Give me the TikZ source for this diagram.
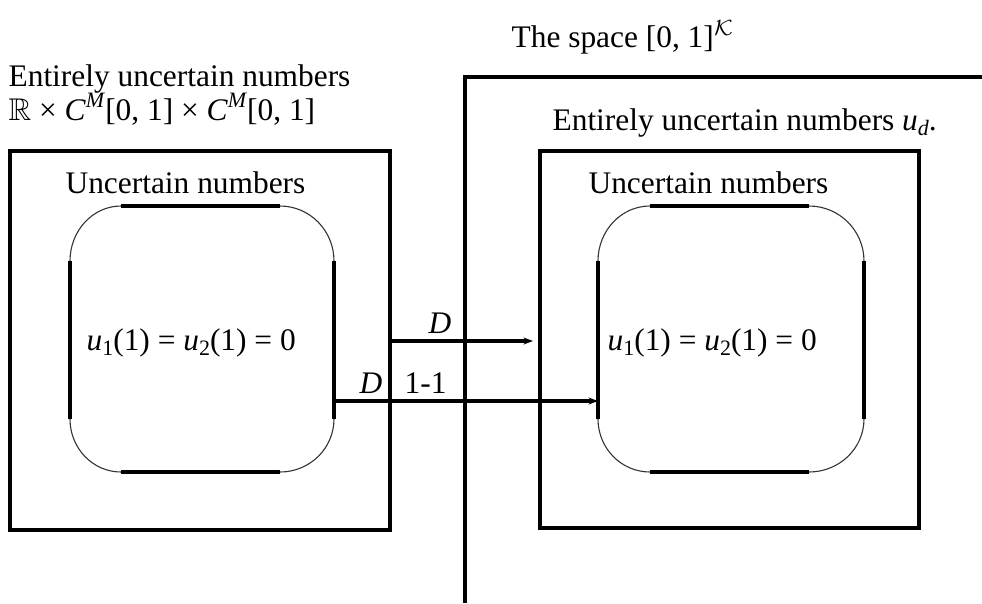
\documentclass[tikz,border=0pt]{standalone}
\usepackage{amssymb}
\usepackage{fontspec}
\setmainfont{Liberation Serif}
\usetikzlibrary{arrows.meta,calc}
\tikzset{
  px/.style={x=0.3185pt,y=-0.3185pt},
  heavy/.style={line width=1.3pt},
  thinarc/.style={line width=0.35pt,draw=black!80},
  lbl/.style={inner sep=0pt,anchor=base west},
  lblc/.style={inner sep=0pt,anchor=base},
  arr/.style={heavy,-{Stealth[length=3pt,width=2.2pt]}}
}
\newcommand{\mysub}[1]{\raisebox{-0.35ex}{\scriptsize #1}}
\newcommand{\mysup}[1]{\raisebox{0.85ex}{\scriptsize #1}}
\newcommand{\myeq}{\textit{u}\mysub{1}(1)\hspace{0.25em}=\hspace{0.25em}\textit{u}\mysub{2}(1)\hspace{0.25em}=\hspace{0.25em}0}
\newcommand{\rbox}[8]{% L R T B xl xr yt yb
  \draw[heavy] (#5,#3) -- (#6,#3);
  \draw[heavy] (#5,#4) -- (#6,#4);
  \draw[heavy] (#1,#7) -- (#1,#8);
  \draw[heavy] (#2,#7) -- (#2,#8);
  \draw[thinarc] (#5,#3) .. controls ($(#5,#3)!0.5523!(#1,#3)$) and ($(#1,#7)!0.5523!(#1,#3)$) .. (#1,#7);
  \draw[thinarc] (#6,#3) .. controls ($(#6,#3)!0.5523!(#2,#3)$) and ($(#2,#7)!0.5523!(#2,#3)$) .. (#2,#7);
  \draw[thinarc] (#5,#4) .. controls ($(#5,#4)!0.5523!(#1,#4)$) and ($(#1,#8)!0.5523!(#1,#4)$) .. (#1,#8);
  \draw[thinarc] (#6,#4) .. controls ($(#6,#4)!0.5523!(#2,#4)$) and ($(#2,#8)!0.5523!(#2,#4)$) .. (#2,#8);
}
\begin{document}
\begin{tikzpicture}[px]
\useasboundingbox (0,0) rectangle (982,603);
% titles
\node[lbl] (title) at (511,47) {The space [0, 1]$^{\mathcal{K}}$};
\node[lbl] (lhead1) at (8,86) {Entirely uncertain numbers};
\node[lbl] (lhead2) at (8,120) {$\mathbb{R}$ × \textit{C}\mysup{\textit{M}}[0, 1] × \textit{C}\mysup{\textit{M}}[0, 1]};
\node[lbl] (rhead) at (552,130) {Entirely uncertain numbers \textit{u}\mysub{\textit{d}}.};
% space boundary
\coordinate (sp0) at (465,603);
\coordinate (sp1) at (465,77);
\coordinate (sp2) at (982,77);
\draw[heavy] (sp0) -- (sp1) -- (sp2);
% big boxes
\draw[heavy] (10,151) rectangle (390,530);
\draw[heavy] (540,151) rectangle (919,528);
\node[lbl] (lun) at (65,193) {Uncertain numbers};
\node[lbl] (run) at (588,193) {Uncertain numbers};
% rounded boxes
\rbox{70}{334}{206}{472}{121}{280}{261}{419}
\rbox{598}{864}{206}{472}{650}{809}{261}{419}
\node[lbl] (leq) at (86,350) {\myeq};
\node[lbl] (req) at (607,350) {\myeq};
% arrows
\coordinate (a1s) at (390,341);
\coordinate (a1e) at (533,341);
\coordinate (a2s) at (334,401);
\coordinate (a2e) at (598,401);
\draw[arr] (a1s) -- (a1e);
\draw[arr] (a2s) -- (a2e);
\node[lblc] (d1) at (440,333) {\textit{D}};
\node[lblc] (d2) at (371,393) {\textit{D}};
\node[lbl] (oo) at (404,393) {1-1};
\end{tikzpicture}
\end{document}
